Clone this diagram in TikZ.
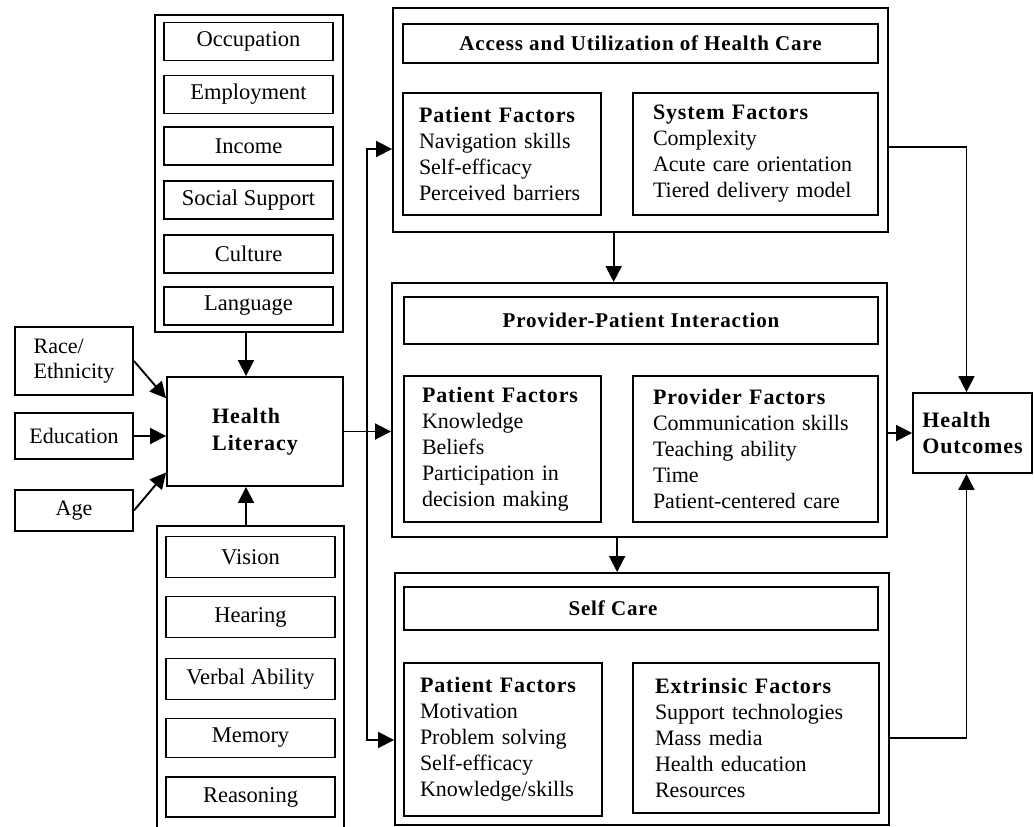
\documentclass[tikz,border=0pt]{standalone}
\usepackage{fontspec}
\setmainfont{Liberation Serif}
\usetikzlibrary{arrows.meta,calc}
\newcommand\hb[1]{{\bfseries\addfontfeature{LetterSpace=4}#1}}
\tikzset{tri/.tip={Triangle[length=16pt,width=16pt]}}
\begin{document}
\begin{tikzpicture}[x=1pt,y=-1pt,
  every node/.style={font=\fontsize{22}{26}\selectfont},
  outerbox/.style={draw, line width=1.9pt, inner sep=0pt},
  itembox/.style={draw, line width=1.4pt, minimum width=169pt, minimum height=38pt, inner sep=0pt, font=\fontsize{22.5}{26}\selectfont},
  sidebox/.style={draw, line width=1.9pt, minimum width=118pt, inner sep=0pt, align=left},
  titlebox/.style={draw, line width=1.4pt, minimum width=475pt, inner sep=0pt, font=\fontsize{21}{26}\selectfont},
  titletext/.style={inner sep=0pt, font=\fontsize{21}{26}\selectfont},
  factorbox/.style={draw, line width=1.4pt, align=left, inner xsep=16pt, inner ysep=0pt},
  conn/.style={line width=1.9pt, -tri},
  conntwo/.style={line width=1.9pt, tri-tri},
]
\useasboundingbox (0,0) rectangle (1034,827);

% left column: social factors
\node[outerbox, minimum width=188pt, minimum height=317pt] (soc) at (249,173.5) {};
\node[itembox] (occ) at (248.5,41.5) {Occupation};
\node[itembox] (emp) at (248.5,94.5) {Employment};
\node[itembox] (inc) at (248.5,146) {Income};
\node[itembox] (ss) at (248.5,200) {Social Support};
\node[itembox] (cul) at (248.5,254) {Culture};
\node[itembox] (lan) at (248.5,306) {Language};

% health literacy
\node[outerbox, minimum width=176pt, minimum height=109pt, align=left, font=\fontsize{22}{27}\selectfont] (hl) at (255,431.5) {\hb{Health}\\\hb{Literacy}};

% side boxes
\node[sidebox, minimum height=68pt, font=\fontsize{22}{25}\selectfont] (race) at (74,361) {Race/\\Ethnicity};
\node[sidebox, minimum height=46pt] (edu) at (74,436) {Education};
\node[sidebox, minimum height=41pt] (age) at (74,510.5) {Age};

% left column: cognitive factors
\node[outerbox, minimum width=187pt, minimum height=320pt] (cog) at (250.5,686) {};
\node[itembox, minimum height=41pt] (vis) at (250.5,557) {Vision};
\node[itembox, minimum height=41pt] (hea) at (250.5,617) {Hearing};
\node[itembox, minimum height=41pt] (verb) at (250.5,679) {Verbal Ability};
\node[itembox, minimum height=39pt] (mem) at (250.5,738) {Memory};
\node[itembox, minimum height=40pt] (rea) at (250.5,797) {Reasoning};

% access and utilization
\node[outerbox, minimum width=495pt, minimum height=224pt] (acc) at (640.5,120) {};
\node[titlebox, minimum height=39pt] (acct) at (640.5,43.5) {\hb{Access and Utilization of Health Care}};
\node[factorbox, text width=166pt, minimum height=122pt] (accp) at (502,154)
  {\hb{Patient Factors}\\Navigation skills\\Self-efficacy\\Perceived barriers};
\node[factorbox, inner xsep=20pt, text width=205pt, minimum height=122pt] (accs) at (755.5,154)
  {\hb{System Factors}\\Complexity\\Acute care orientation\\Tiered delivery model};

% provider-patient interaction
\node[outerbox, minimum width=495pt, minimum height=254pt] (prov) at (639.5,410) {};
\node[titlebox, minimum width=474pt, minimum height=47pt] (provt) at (641,320.5) {\hb{Provider-Patient Interaction}};
\node[factorbox, inner xsep=18pt, text width=161pt, minimum height=146pt] (provp) at (502.5,449)
  {\hb{Patient Factors}\\Knowledge\\Beliefs\\Participation in\\decision making};
\node[factorbox, inner xsep=20pt, text width=205pt, minimum height=146pt] (provf) at (755.5,449)
  {\hb{Provider Factors}\\Communication skills\\Teaching ability\\Time\\Patient-centered care};

% self care
\node[outerbox, minimum width=494pt, minimum height=252pt] (sc) at (642,699) {};
\node[titlebox, minimum width=474pt, minimum height=43pt] (sct) at (641,608.5) {};
\node[titletext] (scttext) at (613,608.5) {\hb{Self Care}};
\node[factorbox, text width=166pt, minimum height=153pt] (scp) at (503,739.5)
  {\hb{Patient Factors}\\Motivation\\Problem solving\\Self-efficacy\\Knowledge/skills};
\node[factorbox, inner xsep=22pt, text width=202pt, minimum height=150pt] (sce) at (756,738)
  {\hb{Extrinsic Factors}\\Support technologies\\Mass media\\Health education\\Resources};

% health outcomes
\node[outerbox, minimum width=119pt, minimum height=80pt, align=left] (ho) at (972.5,433) {\hb{Health}\\\hb{Outcomes}};

% connectors
\coordinate (vx) at (246,0);
\draw[conn] (soc.south -| vx) -- (hl.north -| vx);
\draw[conn] (cog.north -| vx) -- (hl.south -| vx);
\draw[conn] (race.east) -- ($(hl.north west)!0.2!(hl.south west)$);
\draw[conn] (edu.east) -- (edu.east -| hl.west);
\draw[conn] (age.east) -- ($(hl.north west)!0.87!(hl.south west)$);
\draw[conn] (hl.east) -- (hl.east -| prov.west);
\coordinate (bt) at (367,149);
\coordinate (bb) at (367,740);
\draw[conntwo] (bt -| acc.west) -- (bt) -- (bb) -- (bb -| sc.west);
\coordinate (a1) at ($(acc.south west)!0.446!(acc.south east)$);
\draw[conn] (a1) -- (a1 |- prov.north);
\coordinate (a2) at ($(prov.south west)!0.455!(prov.south east)$);
\draw[conn] (a2) -- (a2 |- sc.north);
\coordinate (hoN) at ($(ho.north west)!0.45!(ho.north east)$);
\coordinate (hoS) at ($(ho.south west)!0.45!(ho.south east)$);
\draw[conn] ($(acc.north east)!0.62!(acc.south east)$) -| (hoN);
\draw[conn] (ho.west -| prov.east) -- (ho.west);
\draw[conn] ($(sc.north east)!0.654!(sc.south east)$) -| (hoS);
\end{tikzpicture}
\end{document}
